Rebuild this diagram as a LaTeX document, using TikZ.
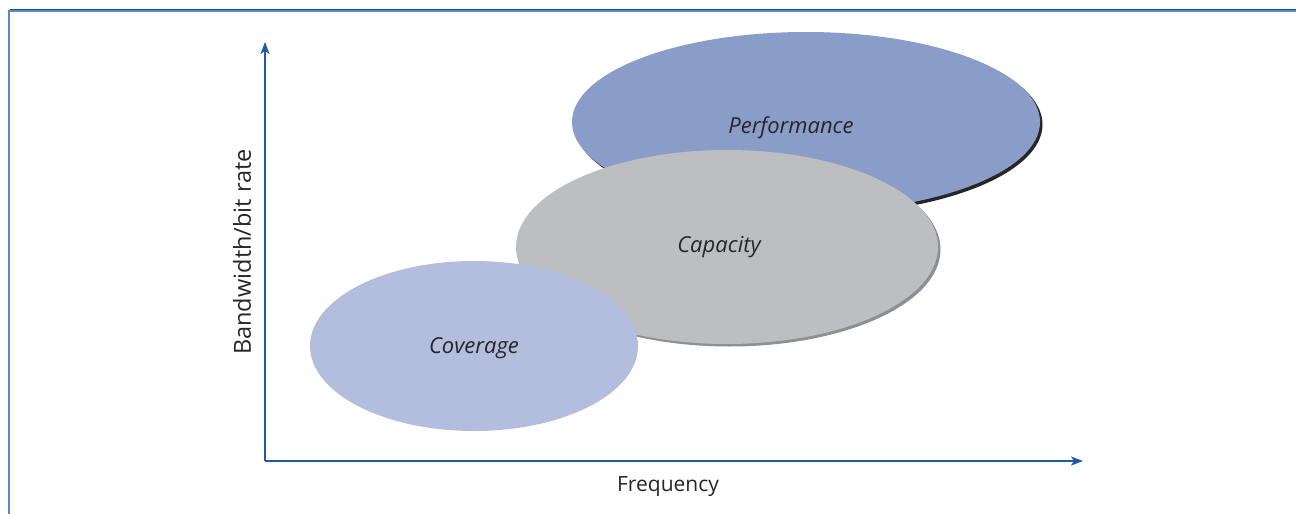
\documentclass[tikz,border=0pt]{standalone}
\usepackage{fontspec}
\setmainfont{Open Sans}
\usetikzlibrary{arrows.meta}
\definecolor{axisblue}{HTML}{1F5AA6}
\definecolor{framedark}{HTML}{1B4C86}
\definecolor{framelight}{HTML}{5A8CC0}
\definecolor{perf}{HTML}{8A9CC8}
\definecolor{capa}{HTML}{BDBEC2}
\definecolor{capashadow}{HTML}{8E8F93}
\definecolor{cover}{HTML}{B3BDDE}
\begin{document}
\begin{tikzpicture}[x=1pt,y=-1pt,
  axis/.style={draw=axisblue,line width=1.3pt,-{Stealth[length=12pt,width=9pt,inset=3pt]}},
  lbl/.style={font=\fontsize{22}{24}\selectfont\itshape,text=black!85},
  axlbl/.style={font=\fontsize{21}{24}\selectfont,text=black!85}]
\useasboundingbox (0,0) rectangle (1296,514);
% frame
\draw[framelight,line width=1.4pt] (1296,11) -- (9,11) -- (9,514);
\draw[framedark,line width=1.4pt] (9.5,9.5) -- (1296,9.5);
% axes
\coordinate (o) at (265,461);
\coordinate (ytip) at (265,42);
\coordinate (xtip) at (1083,461);
\draw[axis] (o) -- (ytip);
\draw[axis] (o) -- (xtip);
% performance
\fill[black!85] (808.5,124.5) ellipse [x radius=234, y radius=90.5];
\fill[perf] (806,122) ellipse [x radius=234, y radius=90];
% capacity
\fill[capashadow] (729.5,249.5) ellipse [x radius=211, y radius=97];
\fill[capa] (727,247) ellipse [x radius=211, y radius=97];
% coverage
\fill[cover] (474,346) ellipse [x radius=164, y radius=85];
% labels
\node[lbl] (perfl) at (791,128) {Performance};
\node[lbl] (capl) at (719,247) {Capacity};
\node[lbl] (covl) at (474,348) {Coverage};
\node[axlbl] (xl) at (668,487) {Frequency};
\node[axlbl,font=\fontsize{23.5}{26}\selectfont,rotate=90] (yl) at (242,252) {Bandwidth/bit rate};
\end{tikzpicture}
\end{document}
